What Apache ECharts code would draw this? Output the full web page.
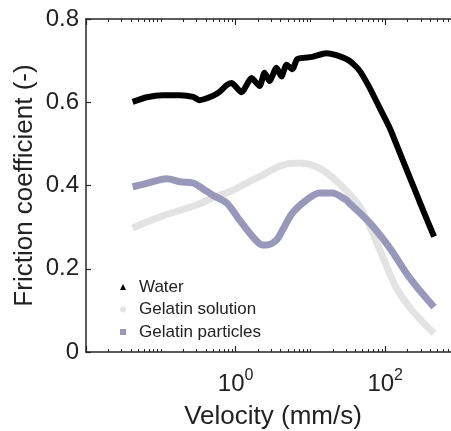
<!DOCTYPE html>
<html>
<head>
<meta charset="utf-8">
<script src="https://cdn.jsdelivr.net/npm/echarts@6/dist/echarts.min.js"></script>
<style>
  html, body { margin: 0; padding: 0; background: #fff; }
  #chart { width: 451px; height: 431px; }
</style>
</head>
<body>
<div id="chart"></div>
<script>
// velocity (mm/s) and friction coefficient
var waterVelocity = [0.042, 0.065, 0.106, 0.18, 0.27, 0.33, 0.49, 0.61, 0.76, 0.88, 1.2, 1.63, 2.09, 2.44, 2.84, 3.52, 4.1, 4.79, 5.75, 6.7, 10.6, 16.3, 22.2, 33, 45, 61, 83, 113, 154, 209, 284, 450];
var waterCoef = [0.601, 0.612, 0.617, 0.617, 0.613, 0.605, 0.615, 0.625, 0.641, 0.646, 0.624, 0.658, 0.639, 0.671, 0.651, 0.683, 0.662, 0.69, 0.679, 0.704, 0.709, 0.718, 0.713, 0.70, 0.677, 0.637, 0.589, 0.541, 0.482, 0.423, 0.364, 0.277];

var solutionVelocity = [0.042, 0.106, 0.30, 0.49, 0.83, 1.40, 2.29, 4.24, 7.13, 12.0, 19.6, 33, 49, 91, 140, 229, 450];
var solutionCoef = [0.298, 0.327, 0.353, 0.37, 0.385, 0.406, 0.425, 0.449, 0.454, 0.445, 0.42, 0.38, 0.34, 0.232, 0.155, 0.10, 0.045];

var particleVelocity = [0.042, 0.065, 0.12, 0.18, 0.27, 0.36, 0.49, 0.76, 1.13, 1.69, 2.29, 2.59, 3.52, 4.24, 5.75, 8.85, 13.2, 19.6, 30.2, 33, 61, 113, 209, 450];
var particleCoef = [0.397, 0.405, 0.416, 0.409, 0.406, 0.393, 0.377, 0.358, 0.317, 0.277, 0.257, 0.257, 0.269, 0.293, 0.334, 0.365, 0.382, 0.382, 0.365, 0.358, 0.312, 0.252, 0.18, 0.108];

// x ticks
var majorTicks = [0.01, 1, 100];
var labelTicks = [1, 100];
var minorTicks = [0.02, 0.03, 0.04, 0.05, 0.06, 0.07, 0.08, 0.09, 0.1,
                  0.2, 0.3, 0.4, 0.5, 0.6, 0.7, 0.8, 0.9,
                  2, 3, 4, 5, 6, 7, 8, 9, 10,
                  20, 30, 40, 50, 60, 70, 80, 90,
                  200, 300, 400, 500, 600, 700, 800, 900];

var seriesNames = ['Water', 'Gelatin solution', 'Gelatin particles'];

function pairs(xs, ys) {
    return xs.map(function (x, i) { return [x, ys[i]]; });
}

var textColor = '#222';
var axisColor = '#262626';
var font = 'Liberation Sans, Arial, Helvetica, sans-serif';

var chart = echarts.init(document.getElementById('chart'));

// one log axis; the same range is repeated to get major/minor ticks top and bottom
function axis(position, opts) {
    var a = {
        type: 'log',
        logBase: 10,
        min: 0.01,
        max: 1000,
        position: position,
        splitLine: { show: false },
        axisLine: { show: false, onZero: false, lineStyle: { color: axisColor, width: 1.5 } },
        axisTick: { show: false },
        axisLabel: { show: false }
    };
    for (var k in opts) a[k] = opts[k];
    return a;
}

var majorTick = { show: true, inside: true, length: 6, customValues: majorTicks, lineStyle: { color: axisColor, width: 1.2 } };
var minorTick = { show: true, inside: true, length: 3, customValues: minorTicks, lineStyle: { color: axisColor, width: 1 } };

var option = {
    animation: false,
    backgroundColor: '#fff',
    textStyle: { fontFamily: font },
    grid: { left: 86, top: 19, right: -9, bottom: 79, containLabel: false, outerBoundsMode: 'none' },
    legend: {
        orient: 'vertical',
        left: 115,
        top: 272,
        itemWidth: 6,
        itemHeight: 6,
        itemGap: 2.5,
        selectedMode: false,
        symbolKeepAspect: true,
        itemStyle: { borderWidth: 0 },
        lineStyle: { width: 0, opacity: 0 },
        textStyle: { fontSize: 17, color: textColor, fontFamily: font, lineHeight: 20, padding: [0, 0, 0, 8] },
        data: [
            { name: seriesNames[0], icon: 'triangle' },
            { name: seriesNames[1], icon: 'circle' },
            { name: seriesNames[2], icon: 'path://M1,1L9,1L9,9L1,9Z' }
        ]
    },
    xAxis: [
        axis('bottom', {
            axisLine: { show: true, onZero: false, lineStyle: { color: axisColor, width: 1.5 } },
            axisTick: majorTick,
            axisLabel: {
                show: true,
                margin: 16,
                customValues: labelTicks,
                formatter: function (v) {
                    var e = Math.round(Math.log10(v));
                    if (e !== 0 && e !== 2) return '';
                    return '{b|10}{s|' + e + '}';
                },
                rich: {
                    b: { fontSize: 24, color: textColor, fontFamily: font, padding: [4, 0, 0, 0], verticalAlign: 'bottom' },
                    s: { fontSize: 16, color: textColor, fontFamily: font, verticalAlign: 'top' }
                }
            },
            name: 'Velocity (mm/s)',
            nameLocation: 'middle',
            nameGap: 52,
            nameMoveOverlap: false,
            nameTextStyle: { fontSize: 26, color: textColor, fontFamily: font }
        }),
        axis('bottom', { axisTick: minorTick }),
        axis('top', {
            axisLine: { show: true, onZero: false, lineStyle: { color: axisColor, width: 1.5 } },
            axisTick: majorTick
        }),
        axis('top', { axisTick: minorTick })
    ],
    yAxis: {
        type: 'value',
        min: 0,
        max: 0.8,
        interval: 0.2,
        splitLine: { show: false },
        axisLine: { show: true, onZero: false, lineStyle: { color: axisColor, width: 1.5 } },
        axisTick: { show: true, inside: true, length: 5, lineStyle: { color: axisColor, width: 1.2 } },
        axisLabel: { fontSize: 24, color: textColor, fontFamily: font, margin: 7 },
        name: 'Friction coefficient (-)',
        nameLocation: 'middle',
        nameGap: 48,
        nameMoveOverlap: false,
        nameTextStyle: { fontSize: 26, color: textColor, fontFamily: font }
    },
    series: [
        {
            name: seriesNames[0],
            type: 'line',
            xAxisIndex: 0,
            data: pairs(waterVelocity, waterCoef),
            showSymbol: false,
            smooth: 0.2,
            color: '#000',
            lineStyle: { color: '#000', width: 6 }
        },
        {
            name: seriesNames[1],
            type: 'line',
            xAxisIndex: 0,
            data: pairs(solutionVelocity, solutionCoef),
            showSymbol: false,
            smooth: 0.4,
            color: '#e3e3e3',
            lineStyle: { color: '#e3e3e3', width: 7 }
        },
        {
            name: seriesNames[2],
            type: 'line',
            xAxisIndex: 0,
            data: pairs(particleVelocity, particleCoef),
            showSymbol: false,
            smooth: 0.3,
            color: '#9898bb',
            lineStyle: { color: '#9898bb', width: 7 }
        }
    ]
};

chart.setOption(option);
</script>
</body>
</html>
